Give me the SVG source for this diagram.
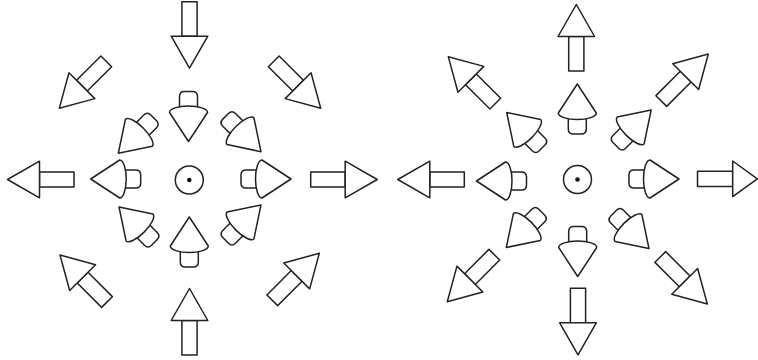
<svg xmlns="http://www.w3.org/2000/svg" xmlns:xlink="http://www.w3.org/1999/xlink" width="758" height="360" viewBox="0 0 758 360">
<style>
.s{fill:#fff;stroke:#222;stroke-width:1.5;stroke-linejoin:round}
.dot{fill:#111;stroke:none}
</style>
<defs>
<g id="bigArrow" class="s"><rect x="0" y="-7.6" width="34.5" height="15.2"/><polygon points="34.5,-18.3 66.5,0 34.5,18.3"/></g>
<g id="smallArrow" class="s"><path d="M -6,-9 L -20,-9 Q -25,-9 -25,-4 L -25,4 Q -25,9 -20,9 L -6,9 Z"/><path d="M -4,-19 A 6.5 19 0 0 0 -4,19 L 25,0 Z"/></g>
</defs>
<rect width="758" height="360" fill="#fff"/>
<g id="left-field">
<g id="L-big-top"><use href="#bigArrow" transform="translate(189.5,1.7) rotate(90)"/></g>
<g id="L-big-bottom"><use href="#bigArrow" transform="translate(189.5,355) rotate(-90)"/></g>
<g id="L-big-left"><use href="#bigArrow" transform="translate(74,179.5) rotate(180)"/></g>
<g id="L-big-right"><use href="#bigArrow" transform="translate(310.7,179.5)"/></g>
<g id="L-big-ul"><use href="#bigArrow" transform="translate(106.3,61.3) rotate(135)"/></g>
<g id="L-big-ur"><use href="#bigArrow" transform="translate(273.7,61.3) rotate(45)"/></g>
<g id="L-big-ll"><use href="#bigArrow" transform="translate(107,302) rotate(-135)"/></g>
<g id="L-big-lr"><use href="#bigArrow" transform="translate(272.3,300.3) rotate(-45)"/></g>
<g id="L-small-top"><use href="#smallArrow" transform="translate(188.5,116.5) rotate(90)"/></g>
<g id="L-small-bottom"><use href="#smallArrow" transform="translate(189.3,242) rotate(-90)"/></g>
<g id="L-small-left"><use href="#smallArrow" transform="translate(115.7,179) rotate(180)"/></g>
<g id="L-small-right"><use href="#smallArrow" transform="translate(266,179)"/></g>
<g id="L-small-ul"><use href="#smallArrow" transform="translate(136,135.6) rotate(135)"/></g>
<g id="L-small-ur"><use href="#smallArrow" transform="translate(243.3,134) rotate(45)"/></g>
<g id="L-small-ll"><use href="#smallArrow" transform="translate(136.7,224.7) rotate(-135)"/></g>
<g id="L-small-lr"><use href="#smallArrow" transform="translate(243.3,222.7) rotate(-45)"/></g>
<g id="L-center"><circle class="s" cx="189.3" cy="180" r="14"/><circle class="dot" cx="189.3" cy="180" r="2.3"/></g>
</g>
<g id="right-field">
<g id="R-big-top"><use href="#bigArrow" transform="translate(576.3,71) rotate(-90)"/></g>
<g id="R-big-bottom"><use href="#bigArrow" transform="translate(578,288.3) rotate(90)"/></g>
<g id="R-big-left"><use href="#bigArrow" transform="translate(464.3,179.5) rotate(180)"/></g>
<g id="R-big-right" class="s"><rect x="697.5" y="171.2" width="35.2" height="15.2"/><polygon points="732.7,161 757.3,178.8 732.7,196.6"/></g>
<g id="R-big-ul"><use href="#bigArrow" transform="translate(495.3,103.7) rotate(-135)"/></g>
<g id="R-big-ur"><use href="#bigArrow" transform="translate(661.3,101) rotate(-45)"/></g>
<g id="R-big-ll"><use href="#bigArrow" transform="translate(494.3,254.7) rotate(135)"/></g>
<g id="R-big-lr"><use href="#bigArrow" transform="translate(660.3,257) rotate(45)"/></g>
<g id="R-small-top"><use href="#smallArrow" transform="translate(577.3,109) rotate(-90)"/></g>
<g id="R-small-bottom"><use href="#smallArrow" transform="translate(577.7,251.5) rotate(90)"/></g>
<g id="R-small-left"><use href="#smallArrow" transform="translate(501.5,181) rotate(180)"/></g>
<g id="R-small-right"><use href="#smallArrow" transform="translate(654,179)"/></g>
<g id="R-small-ul"><use href="#smallArrow" transform="translate(524.4,130.2) rotate(-135)"/></g>
<g id="R-small-ur"><use href="#smallArrow" transform="translate(633.5,127.7) rotate(-45)"/></g>
<g id="R-small-ll"><use href="#smallArrow" transform="translate(524,229.8) rotate(135)"/></g>
<g id="R-small-lr"><use href="#smallArrow" transform="translate(631.3,230.8) rotate(45)"/></g>
<g id="R-center"><circle class="s" cx="577.5" cy="179.5" r="14"/><circle class="dot" cx="577.5" cy="179.5" r="2.3"/></g>
</g>
<g id="connectors"/>
</svg>
